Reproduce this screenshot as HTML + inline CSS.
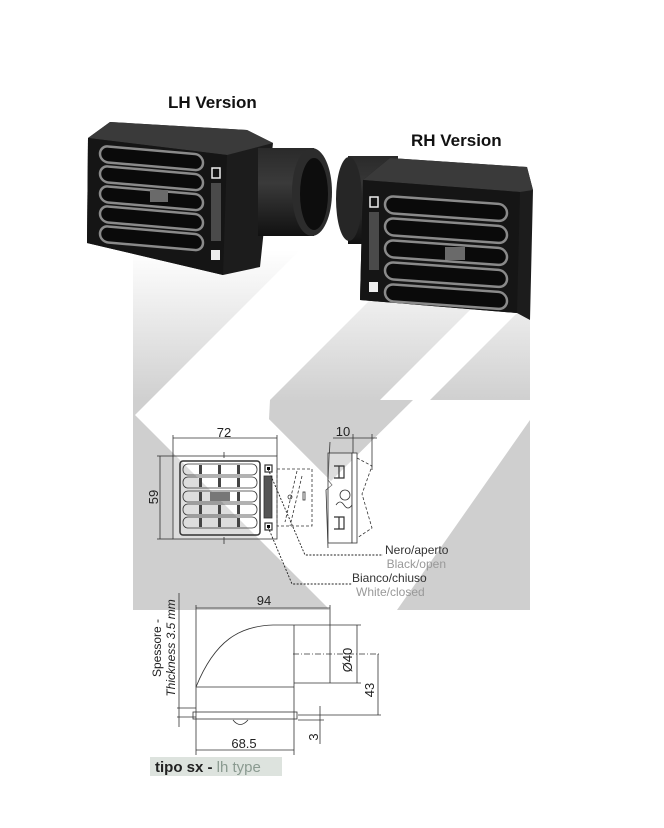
<!DOCTYPE html>
<html><head><meta charset="utf-8"><style>
html,body{margin:0;padding:0;background:#fff;}
svg{display:block;font-family:"Liberation Sans",sans-serif;}
</style></head><body>
<svg width="664" height="828" viewBox="0 0 664 828" xmlns="http://www.w3.org/2000/svg">
<defs>
<linearGradient id="fade" gradientUnits="userSpaceOnUse" x1="0" y1="250" x2="0" y2="402">
<stop offset="0" stop-color="#ffffff"/><stop offset="1" stop-color="#cfcfcf"/>
</linearGradient>
<linearGradient id="tubeg" x1="0" y1="0" x2="0" y2="1">
<stop offset="0" stop-color="#2a2a2a"/><stop offset="0.4" stop-color="#3a3a3a"/><stop offset="1" stop-color="#111"/>
</linearGradient>
</defs>

<!-- upper faded background -->
<polygon points="133,250 300,250 150,400 133,400" fill="url(#fade)"/>
<polygon points="420,250 530,250 380,400 270,400" fill="url(#fade)"/>
<polygon points="530,300 530,400 430,400" fill="url(#fade)"/>

<!-- gray chevron background in drawing area -->
<polygon points="133,400 150,400 133,417" fill="#cfcfcf"/>
<polygon points="133,413 330,610 133,610" fill="#cfcfcf"/>
<polygon points="270,400 380,400 331,481 269,419" fill="#cfcfcf"/>
<polygon points="288,400 413,400 331,481 269,419" fill="#cfcfcf"/>
<polygon points="430,400 530,400 530,610 397,610 465,510" fill="#cfcfcf" opacity="0"/>
<polygon points="530,420 530,610 397,610" fill="#cfcfcf"/>

<!-- LH product -->
<g>
<polygon points="110,122 247,130 273,143 260,267 223,275 87,243 88,138" fill="#1c1c1c"/>
<polygon points="110,122 247,130 273,143 227,155 88,138" fill="#3a3a3a"/>
<rect x="258" y="148" width="56" height="88" fill="url(#tubeg)"/>
<ellipse cx="312" cy="192" rx="20" ry="44" fill="#2c2c2c"/>
<ellipse cx="314" cy="194" rx="14" ry="36" fill="#0d0d0d"/>
<polygon points="88,138 227,155 223,275 87,243" fill="#151515"/>
<g fill="#0a0a0a" stroke="#8a8a8a" stroke-width="2.5">
<rect x="100" y="146" width="103" height="16" rx="8" transform="skewY(5) translate(0,-9)"/>
<rect x="100" y="166" width="103" height="16" rx="8" transform="skewY(5) translate(0,-9)"/>
<rect x="100" y="186" width="103" height="16" rx="8" transform="skewY(5) translate(0,-9)"/>
<rect x="100" y="206" width="103" height="16" rx="8" transform="skewY(5) translate(0,-9)"/>
<rect x="100" y="226" width="103" height="16" rx="8" transform="skewY(5) translate(0,-9)"/>
</g>
<rect x="150" y="190" width="18" height="12" fill="#6a6a6a"/>
<rect x="212" y="168" width="8" height="10" fill="none" stroke="#eee" stroke-width="1.5"/>
<rect x="211" y="183" width="10" height="58" fill="#4a4a4a"/>
<rect x="211" y="250" width="9" height="10" fill="#eee"/>
</g>

<!-- RH product -->
<g>
<rect x="348" y="156" width="50" height="88" fill="url(#tubeg)"/>
<ellipse cx="349" cy="199" rx="13" ry="42" fill="#262626"/>
<polygon points="390,158 527,167 533,190 530,320 517,313 360,300 363,180" fill="#1c1c1c"/>
<polygon points="390,158 527,167 533,190 520,192 363,180" fill="#3a3a3a"/>
<polygon points="363,180 520,192 517,313 360,300" fill="#151515"/>
<g fill="#0a0a0a" stroke="#8a8a8a" stroke-width="2.5">
<rect x="385" y="196" width="122" height="17" rx="8.5" transform="skewY(4) translate(0,-27)"/>
<rect x="385" y="218" width="122" height="17" rx="8.5" transform="skewY(4) translate(0,-27)"/>
<rect x="385" y="240" width="122" height="17" rx="8.5" transform="skewY(4) translate(0,-27)"/>
<rect x="385" y="262" width="122" height="17" rx="8.5" transform="skewY(4) translate(0,-27)"/>
<rect x="385" y="284" width="122" height="17" rx="8.5" transform="skewY(4) translate(0,-27)"/>
</g>
<rect x="445" y="247" width="20" height="13" fill="#6a6a6a"/>
<rect x="370" y="197" width="8" height="10" fill="none" stroke="#eee" stroke-width="1.5"/>
<rect x="369" y="212" width="10" height="58" fill="#4a4a4a"/>
<rect x="369" y="282" width="9" height="10" fill="#eee"/>
</g>

<text x="168" y="108" font-size="17" font-weight="bold" fill="#111">LH Version</text>
<text x="411" y="146" font-size="17" font-weight="bold" fill="#111">RH Version</text>

<!-- Front view drawing -->
<g stroke="#333" fill="none" stroke-width="0.8">
<line x1="173" y1="438" x2="277" y2="438"/>
<line x1="173" y1="435" x2="173" y2="456"/><line x1="277" y1="435" x2="277" y2="456"/>
<line x1="160" y1="456" x2="160" y2="539"/>
<line x1="157" y1="456" x2="173" y2="456"/><line x1="157" y1="539" x2="173" y2="539"/>
<rect x="173" y="456" width="104" height="83" fill="#fff" fill-opacity="0.3"/>
<rect x="180" y="461" width="80" height="74" rx="3" stroke-width="1.5"/>
<rect x="183" y="464" width="74" height="11" rx="5"/>
<rect x="183" y="477" width="74" height="11" rx="5"/>
<rect x="183" y="491" width="74" height="11" rx="5"/>
<rect x="183" y="504" width="74" height="11" rx="5"/>
<rect x="183" y="517" width="74" height="11" rx="5"/>
<rect x="265" y="465" width="7" height="7" stroke-width="1.2"/>
<rect x="264" y="476" width="8" height="42" fill="#555"/>
<rect x="265" y="523" width="7" height="7" stroke-width="1.2"/>
<line x1="224" y1="452" x2="224" y2="458"/><line x1="224" y1="537" x2="224" y2="544"/>
<rect x="277" y="469" width="35" height="57" stroke-dasharray="3,2"/>
<path d="M297 471 L285 522 M302 476 L290 526" stroke-dasharray="3,2"/>
<rect x="303" y="492" width="2" height="8"/>
<circle cx="290" cy="497" r="2"/>
</g>
<g fill="#444">
<rect x="199" y="465" width="3" height="9"/><rect x="218" y="465" width="3" height="9"/><rect x="237" y="465" width="3" height="9"/>
<rect x="199" y="478" width="3" height="9"/><rect x="218" y="478" width="3" height="9"/><rect x="237" y="478" width="3" height="9"/>
<rect x="199" y="492" width="3" height="9"/><rect x="210" y="492" width="20" height="9" fill="#777"/><rect x="237" y="492" width="3" height="9"/>
<rect x="199" y="505" width="3" height="9"/><rect x="218" y="505" width="3" height="9"/><rect x="237" y="505" width="3" height="9"/>
<rect x="199" y="518" width="3" height="9"/><rect x="218" y="518" width="3" height="9"/><rect x="237" y="518" width="3" height="9"/>
<rect x="267" y="467" width="3" height="3" fill="#000"/><rect x="267" y="525" width="3" height="3" fill="#000"/>
</g>
<text x="224" y="437" font-size="13" text-anchor="middle" fill="#222">72</text>
<text transform="translate(158,497) rotate(-90)" font-size="13" text-anchor="middle" fill="#222">59</text>

<!-- Side view -->
<g stroke="#333" fill="none" stroke-width="0.8">
<path d="M330 442 L328 480 L332 485 L326 490 L328 548"/>
<rect x="328" y="453" width="24" height="90" fill="#fff" fill-opacity="0.3"/>
<rect x="352" y="453" width="5" height="90" fill="#fff"/>
<path d="M357 458 L372 466 L362 494 L372 528 L357 538" stroke-dasharray="3,2"/>
<line x1="333" y1="438" x2="377" y2="438"/>
<line x1="353" y1="434" x2="353" y2="453"/><line x1="372" y1="434" x2="372" y2="470"/>
<path d="M334 466 h10 v12 h-10 M339 466 v12 M334 517 h10 v12 h-10 M339 517 v12" stroke-width="1.2"/>
<circle cx="345" cy="495" r="5"/>
<path d="M336 505 q4 -6 8 0 q4 6 8 0" />
</g>
<text x="343" y="436" font-size="13" text-anchor="middle" fill="#222">10</text>

<!-- leaders -->
<g stroke="#222" fill="none" stroke-width="0.9" stroke-dasharray="2,1.5">
<path d="M268 469 L305 555 L383 555"/>
<path d="M268 527 L292 584 L352 584"/>
</g>
<g font-size="12">
<text x="385" y="554" fill="#333">Nero/aperto</text>
<text x="446" y="568" fill="#999" text-anchor="end">Black/open</text>
<text x="352" y="582" fill="#333">Bianco/chiuso</text>
<text x="356" y="596" fill="#999">White/closed</text>
</g>

<!-- bottom view -->
<g stroke="#333" fill="none" stroke-width="0.8">
<line x1="196" y1="608" x2="330" y2="608"/>
<line x1="196" y1="605" x2="196" y2="755"/>
<line x1="330" y1="605" x2="330" y2="683"/>
<path d="M196 687 C215 640 240 626 273 625 L330 625"/>
<line x1="196" y1="687" x2="294" y2="687"/>
<line x1="294" y1="625" x2="294" y2="755"/>
<line x1="294" y1="683" x2="330" y2="683"/>
<line x1="330" y1="625" x2="361" y2="625"/><line x1="330" y1="683" x2="361" y2="683"/>
<line x1="357" y1="625" x2="357" y2="683"/>
<line x1="293" y1="654" x2="380" y2="654" stroke-dasharray="6,2,1,2"/>
<line x1="378" y1="654" x2="378" y2="715"/>
<line x1="298" y1="715" x2="381" y2="715"/>
<rect x="193" y="712" width="104" height="7"/>
<path d="M233 720 q7 9 15 0"/>
<line x1="320" y1="706" x2="320" y2="744"/>
<line x1="298" y1="720" x2="324" y2="720"/>
<line x1="196" y1="750" x2="294" y2="750"/>
<line x1="179" y1="593" x2="179" y2="727"/>
<line x1="177" y1="708" x2="196" y2="708"/><line x1="177" y1="717" x2="196" y2="717"/>
</g>
<g font-size="13" fill="#222">
<text x="264" y="605" text-anchor="middle">94</text>
<text transform="translate(352,660) rotate(-90)" text-anchor="middle">Ø40</text>
<text transform="translate(374,690) rotate(-90)" text-anchor="middle">43</text>
<text transform="translate(318,737) rotate(-90)" text-anchor="middle">3</text>
<text x="244" y="748" text-anchor="middle">68.5</text>
<text transform="translate(161,648) rotate(-90)" text-anchor="middle" font-size="12">Spessore -</text>
<text transform="translate(175,648) rotate(-90)" text-anchor="middle" font-size="12" font-style="italic">Thickness 3.5 mm</text>
</g>

<rect x="150" y="757" width="132" height="19" fill="#dde3de"/>
<text x="155" y="772" font-size="15"><tspan font-weight="bold" fill="#222">tipo sx - </tspan><tspan fill="#8a9a90">lh type</tspan></text>
</svg>
</body></html>
